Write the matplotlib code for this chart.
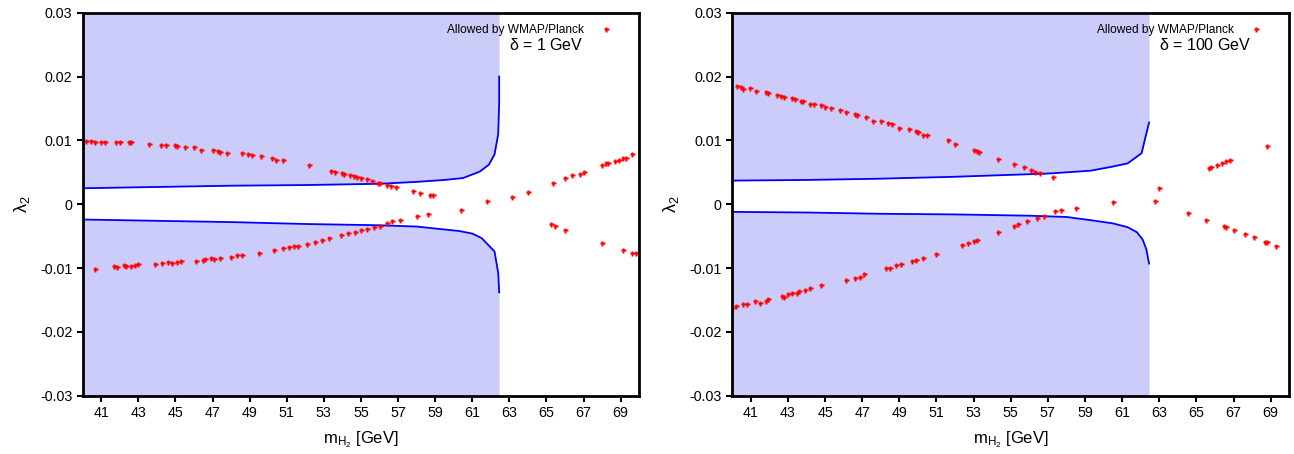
import matplotlib
matplotlib.use("Agg")
import matplotlib.pyplot as plt

plt.rcParams['font.family'] = ['Liberation Sans', 'DejaVu Sans']
plt.rcParams['mathtext.fontset'] = 'custom'
plt.rcParams['mathtext.rm'] = 'Liberation Sans'
plt.rcParams['mathtext.it'] = 'Liberation Sans:italic'

# ---- delta = 1 GeV : boundary curves ----
bx_up_1 = [40, 44, 48, 52, 56, 58, 59.5, 60.5, 61.4, 61.9, 62.2, 62.4, 62.45, 62.45]
by_up_1 = [0.0025, 0.0027, 0.0029, 0.0030, 0.0032, 0.0035, 0.0038, 0.0041, 0.0051, 0.0062, 0.0078, 0.0110, 0.016, 0.020]
bx_lo_1 = [40, 44, 48, 52, 56, 58, 59.3, 60.3, 61.0, 61.5, 62.2, 62.4, 62.45]
by_lo_1 = [-0.0024, -0.0026, -0.0028, -0.0031, -0.0033, -0.0035, -0.0039, -0.0042, -0.0046, -0.0053, -0.0074, -0.0108, -0.0138]

# ---- delta = 1 GeV : allowed points ----
px_1 = [40.2, 40.44, 40.66, 41.0, 41.2, 41.8, 42.0, 42.5, 42.6, 43.6, 44.2, 44.5, 45.0, 45.1,
        45.5, 46.0, 46.4, 47.0, 47.3, 47.4, 47.8, 48.6, 48.9, 49.1, 49.6, 50.2, 50.4, 50.8,
        52.2, 53.4, 53.6, 54.0, 54.1, 54.4, 54.6, 54.8, 55.0, 55.3, 55.6, 55.9, 56.0, 56.4,
        56.6, 56.9, 57.8, 58.2, 58.7, 58.9, 60.37, 65.22, 65.45, 66.0, 68.0, 69.1, 69.6, 69.85,
        40.66, 41.68, 41.86, 42.24, 42.35, 42.6, 42.8, 43.0, 43.9, 44.3, 44.6, 44.8, 45.1, 45.3,
        46.1, 46.5, 46.6, 46.9, 47.1, 47.4, 48.0, 48.3, 48.6, 49.5, 50.3, 50.8, 51.1, 51.4,
        51.6, 52.1, 52.5, 52.9, 53.3, 53.9, 54.3, 54.7, 55.0, 55.3, 55.7, 56.0, 56.4, 56.7,
        57.1, 58.0, 58.6, 61.77, 63.12, 63.98, 65.36, 66.0, 66.4, 66.8, 67.0, 68.0, 68.2,
        68.3, 68.7, 68.9, 69.1, 69.3, 69.6]
py_1 = [0.0099, 0.0099, 0.0098, 0.0097, 0.0098, 0.0097, 0.0097, 0.0097, 0.0098, 0.0095, 0.0093, 0.0092, 0.0092, 0.0091,
        0.0089, 0.0090, 0.0085, 0.0085, 0.0083, 0.0082, 0.0081, 0.0081, 0.0078, 0.0077, 0.0075, 0.0073, 0.0070, 0.0069,
        0.0061, 0.0052, 0.0051, 0.0049, 0.0047, 0.0046, 0.0044, 0.0043, 0.0041, 0.0039, 0.0036, 0.0034, 0.0033, 0.0030,
        0.0028, 0.0027, 0.0020, 0.0018, 0.0015, 0.0015, -0.00096, -0.00315, -0.00342, -0.0040, -0.0060, -0.0072, -0.0077, -0.0077,
        -0.0101, -0.0097, -0.0099, -0.0096, -0.0097, -0.0097, -0.0095, -0.0094, -0.0093, -0.0092, -0.0091, -0.0092, -0.0090, -0.0089,
        -0.0089, -0.0088, -0.0086, -0.0085, -0.0086, -0.0084, -0.0083, -0.0080, -0.0079, -0.0076, -0.0072, -0.0069, -0.0067, -0.0066,
        -0.0065, -0.0062, -0.0059, -0.0056, -0.0053, -0.0049, -0.0045, -0.0043, -0.0041, -0.0039, -0.0036, -0.0034, -0.0029, -0.0027,
        -0.0024, -0.0018, -0.0015, 0.00055, 0.00113, 0.00186, 0.00327, 0.0041, 0.0045, 0.0048, 0.0051, 0.0062, 0.0064,
        0.0065, 0.0068, 0.0070, 0.0072, 0.0073, 0.0078]

# ---- delta = 100 GeV : boundary curves ----
bx_up_2 = [40, 44, 48, 52, 55, 57, 59.3, 60.5, 61.3, 62.05, 62.45]
by_up_2 = [0.0037, 0.0038, 0.0040, 0.0043, 0.0046, 0.0048, 0.00525, 0.0059, 0.0064, 0.0080, 0.0128]
bx_lo_2 = [40, 44, 48, 52, 56, 58, 59.3, 60.5, 61.3, 61.8, 62.1, 62.3, 62.45]
by_lo_2 = [-0.0012, -0.0013, -0.0015, -0.0016, -0.0018, -0.0020, -0.0025, -0.0030, -0.0036, -0.0044, -0.0055, -0.0070, -0.0093]

# ---- delta = 100 GeV : allowed points ----
px_2 = [40.25, 40.45, 40.6, 40.96, 41.3, 41.8, 41.95, 42.4, 42.6, 42.8, 43.2, 43.4, 43.7, 43.8,
        44.2, 44.4, 44.8, 45.0, 45.3, 45.8, 46.1, 46.6, 46.7, 47.2, 47.6, 48.0, 48.4, 48.6,
        49.0, 49.5, 49.9, 50.0, 50.3, 50.5, 51.6, 52.0, 53.0, 53.2, 53.3, 54.3, 55.2, 55.7,
        56.1, 56.3, 56.6, 57.3, 60.53, 64.57, 65.51, 66.5, 66.6, 67.0, 67.6, 68.1, 68.7, 68.8, 69.3,
        39.96, 40.18, 40.58, 40.8, 41.24, 41.5, 41.8, 41.95, 42.66, 42.8, 43.0, 43.2, 43.5, 43.6,
        43.9, 44.2, 44.8, 46.1, 46.6, 46.9, 47.1, 48.3, 48.5, 48.8, 49.1, 49.7, 49.9, 50.3,
        51.0, 52.4, 52.7, 53.0, 53.2, 54.3, 55.2, 55.4, 55.9, 56.4, 56.8, 57.4, 57.7, 58.5,
        62.76, 63.01, 65.7, 65.8, 66.1, 66.4, 66.6, 66.8, 68.8]
py_2 = [0.0185, 0.0184, 0.0181, 0.0182, 0.0178, 0.0176, 0.0174, 0.0171, 0.0170, 0.0168, 0.0167, 0.0165, 0.0162, 0.0162,
        0.0157, 0.0157, 0.0155, 0.0153, 0.0150, 0.0147, 0.0144, 0.0142, 0.0140, 0.0136, 0.0131, 0.0130, 0.0127, 0.0126,
        0.0120, 0.0118, 0.0114, 0.0113, 0.0109, 0.0108, 0.0100, 0.0095, 0.0085, 0.0084, 0.0082, 0.0071, 0.0063, 0.0058,
        0.0053, 0.0050, 0.0049, 0.0043, 0.00039, -0.00143, -0.00248, -0.0034, -0.0036, -0.0041, -0.0046, -0.0051, -0.0059, -0.0059, -0.0066,
        -0.0162, -0.0159, -0.0157, -0.0156, -0.0152, -0.0154, -0.0152, -0.0149, -0.0144, -0.0145, -0.0141, -0.0139, -0.0139, -0.0136,
        -0.0134, -0.0131, -0.0127, -0.0119, -0.0115, -0.0114, -0.0109, -0.0100, -0.0100, -0.0096, -0.0094, -0.0089, -0.0088, -0.0084,
        -0.0078, -0.0064, -0.0060, -0.0058, -0.0056, -0.0044, -0.0034, -0.0031, -0.0027, -0.0021, -0.0019, -0.0011, -0.0009, -0.0006,
        0.0005, 0.00258, 0.0057, 0.0059, 0.0062, 0.0065, 0.0067, 0.0069, 0.0091]

xticks = [41, 43, 45, 47, 49, 51, 53, 55, 57, 59, 61, 63, 65, 67, 69]
yticks = [-0.03, -0.02, -0.01, 0, 0.01, 0.02, 0.03]
ytick_labels = ['-0.03', '-0.02', '-0.01', '0', '0.01', '0.02', '0.03']
deltas = ['$\\mathrm{\\delta}$ = 1 GeV', '$\\mathrm{\\delta}$ = 100 GeV']

fig = plt.figure(figsize=(12.94, 4.54), dpi=100)
ax1 = fig.add_axes([0.0639, 0.1284, 0.4301, 0.8436])
ax2 = fig.add_axes([0.5659, 0.1284, 0.4304, 0.8436])

panels = [(ax1, bx_up_1, by_up_1, bx_lo_1, by_lo_1, px_1, py_1, deltas[0]),
          (ax2, bx_up_2, by_up_2, bx_lo_2, by_lo_2, px_2, py_2, deltas[1])]

for ax, bxu, byu, bxl, byl, px, py, dtext in panels:
    shade = '#ccccfa'
    ax.fill_between(bxu, byu, 0.03, color=shade, lw=0)
    ax.fill_between(bxl, -0.03, byl, color=shade, lw=0)
    ax.plot(bxu, byu, color='#0000ff', lw=1.3)
    ax.plot(bxl, byl, color='#0000ff', lw=1.3)
    ax.plot(px, py, ls='none', marker='P', ms=3.6, color='red', mec='none',
            label='Allowed by WMAP/Planck')
    ax.set_xlim(40, 70)
    ax.set_ylim(-0.03, 0.03)
    ax.set_xticks(xticks)
    ax.set_yticks(yticks)
    ax.set_yticklabels(ytick_labels)
    ax.tick_params(direction='out', length=4, width=1.5, labelsize=10.3, top=False, right=False)
    for s in ax.spines.values():
        s.set_linewidth(2)
    ax.set_xlabel('$\\mathrm{m_{H_2}}$ [GeV]', fontsize=12, labelpad=7)
    ax.set_ylabel('$\\mathrm{\\lambda_2}$', fontsize=13, labelpad=6)
    ax.legend(loc='upper right', frameon=False, markerfirst=False, fontsize=8.6,
              handlelength=1.0, handletextpad=1.4, borderaxespad=0.4,
              bbox_to_anchor=(0.969, 0.995))
    ax.text(0.766, 0.915, dtext, transform=ax.transAxes, fontsize=11.5,
            ha='left', va='center')

fig.savefig('out.png', dpi=100)
